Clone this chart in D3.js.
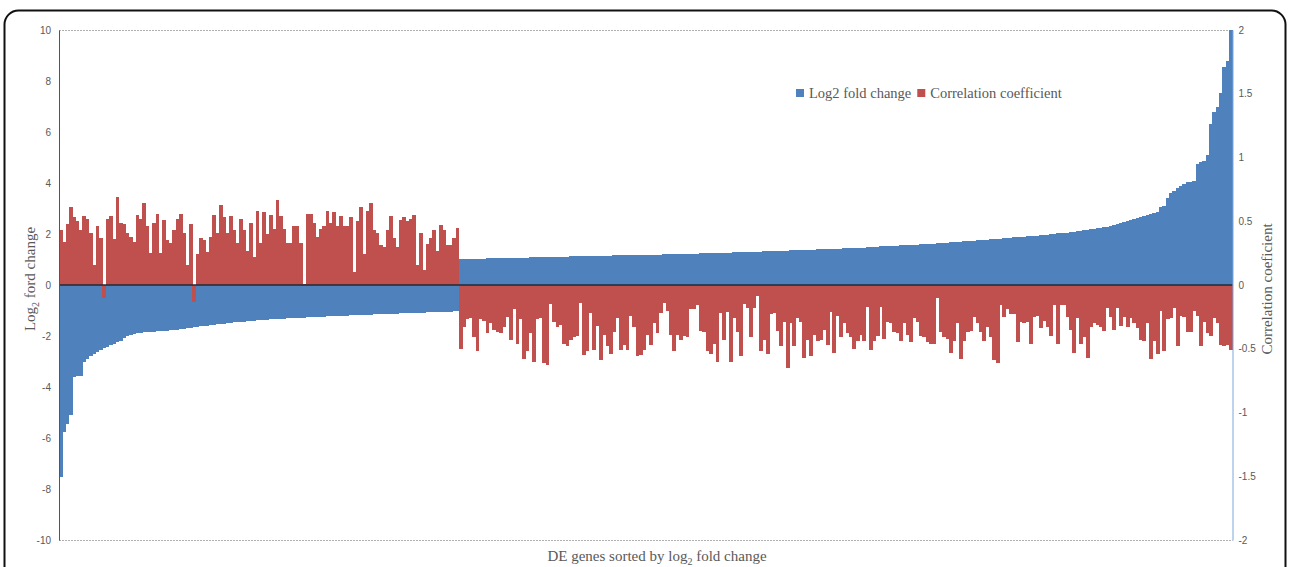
<!DOCTYPE html>
<html>
<head>
<meta charset="utf-8">
<script src="https://cdn.jsdelivr.net/npm/d3@7"></script>
<style>
  html, body { margin: 0; padding: 0; background: #fff; }
  svg { display: block; }
</style>
</head>
<body>
<svg id="chart" width="1290" height="567"></svg>
<script>
// log2 fold change of each DE gene, sorted ascending (left axis)
const log2FoldChange = [
  -7.52,-5.78,-5.46,-5.10,-3.60,-3.57,-3.55,-3.00,-2.90,-2.78,
  -2.72,-2.63,-2.55,-2.47,-2.42,-2.36,-2.30,-2.25,-2.18,-2.08,
  -2.00,-1.95,-1.92,-1.90,-1.88,-1.86,-1.85,-1.84,-1.83,-1.82,
  -1.81,-1.80,-1.79,-1.78,-1.77,-1.76,-1.74,-1.72,-1.70,-1.68,
  -1.66,-1.64,-1.62,-1.60,-1.59,-1.57,-1.55,-1.54,-1.52,-1.51,
  -1.50,-1.48,-1.47,-1.46,-1.45,-1.44,-1.42,-1.41,-1.40,-1.39,
  -1.38,-1.37,-1.36,-1.35,-1.34,-1.34,-1.33,-1.32,-1.31,-1.31,
  -1.30,-1.29,-1.29,-1.28,-1.27,-1.27,-1.26,-1.25,-1.25,-1.24,
  -1.23,-1.23,-1.22,-1.21,-1.21,-1.20,-1.20,-1.19,-1.18,-1.18,
  -1.17,-1.17,-1.16,-1.16,-1.15,-1.15,-1.14,-1.14,-1.13,-1.13,
  -1.12,-1.12,-1.11,-1.11,-1.10,-1.10,-1.09,-1.09,-1.08,-1.08,
  -1.07,-1.07,-1.06,-1.06,-1.05,-1.05,-1.04,-1.04,-1.03,-1.02,
  1.01,1.01,1.02,1.02,1.02,1.03,1.03,1.03,1.04,1.04,
  1.04,1.05,1.05,1.05,1.05,1.06,1.06,1.06,1.07,1.07,
  1.07,1.08,1.08,1.08,1.09,1.09,1.09,1.10,1.10,1.10,
  1.11,1.11,1.11,1.12,1.12,1.12,1.13,1.13,1.13,1.14,
  1.14,1.14,1.15,1.15,1.15,1.15,1.16,1.16,1.16,1.16,
  1.17,1.17,1.17,1.17,1.18,1.18,1.18,1.18,1.19,1.19,
  1.19,1.20,1.20,1.20,1.21,1.21,1.21,1.22,1.22,1.22,
  1.23,1.23,1.24,1.24,1.24,1.25,1.25,1.26,1.26,1.26,
  1.27,1.27,1.28,1.28,1.29,1.29,1.30,1.30,1.30,1.31,
  1.31,1.32,1.32,1.33,1.33,1.34,1.34,1.35,1.35,1.36,
  1.36,1.37,1.37,1.38,1.38,1.39,1.39,1.40,1.40,1.41,
  1.41,1.42,1.42,1.43,1.43,1.44,1.44,1.45,1.45,1.46,
  1.47,1.47,1.48,1.49,1.49,1.50,1.51,1.51,1.52,1.53,
  1.53,1.54,1.55,1.55,1.56,1.57,1.57,1.58,1.59,1.60,
  1.60,1.61,1.62,1.63,
  1.64,1.65,1.66,1.67,1.68,1.69,1.70,1.71,1.72,1.73,
  1.74,1.75,1.76,1.77,1.78,1.79,1.80,1.81,1.82,1.83,
  1.84,1.86,1.87,1.88,1.89,1.90,1.91,1.92,1.93,1.94,
  1.95,1.96,1.97,1.99,2.00,2.02,
  2.03,2.04,2.05,2.07,2.08,2.10,2.12,2.14,2.16,2.18,
  2.20,2.22,2.24,2.26,2.29,2.32,2.35,2.38,2.42,2.46,
  2.50,2.54,2.58,2.62,2.66,2.70,2.75,2.80,
  2.82,2.85,3.07,3.10,3.42,3.62,3.70,3.80,3.88,3.96,
  4.03,4.05,4.07,4.75,4.83,4.87,5.10,6.30,6.80,7.00,
  7.52,8.56,8.78,10.0
];

// correlation coefficient of each gene, same order (right axis)
const correlation = [
  0.43,0.34,0.48,0.61,0.53,0.50,0.43,0.54,0.52,0.41,
  0.16,0.46,0.37,-0.10,0.52,0.54,0.36,0.69,0.49,0.48,
  0.41,0.38,0.34,0.55,0.52,0.64,0.46,0.25,0.49,0.56,
  0.25,0.51,0.35,0.33,0.43,0.52,0.56,0.41,0.16,0.48,
  -0.13,0.24,0.37,0.35,0.26,0.38,0.55,0.41,0.63,0.53,
  0.41,0.54,0.43,0.33,0.52,0.43,0.27,0.49,0.22,0.58,
  0.33,0.57,0.40,0.55,0.44,0.67,0.54,0.44,0.33,0.33,
  0.46,0.46,0.33,0.01,0.56,0.56,0.49,0.38,0.44,0.46,
  0.58,0.49,0.57,0.46,0.54,0.46,0.46,0.53,0.10,0.50,
  0.61,0.24,0.58,0.64,0.43,0.41,0.31,0.30,0.43,0.54,
  0.37,0.30,0.51,0.53,0.50,0.52,0.55,0.16,0.41,0.12,
  0.32,0.37,0.43,0.27,0.47,0.43,0.31,0.31,0.37,0.45,
  -0.50,-0.33,-0.27,-0.26,-0.41,-0.52,-0.27,-0.28,-0.38,-0.30,
  -0.35,-0.37,-0.38,-0.33,-0.25,-0.43,-0.19,-0.46,-0.27,-0.58,
  -0.52,-0.38,-0.60,-0.27,-0.26,-0.61,-0.63,-0.15,-0.29,-0.33,
  -0.31,-0.46,-0.48,-0.43,-0.41,-0.40,-0.14,-0.55,-0.52,-0.22,
  -0.51,-0.32,-0.59,-0.39,-0.48,-0.54,-0.37,-0.26,-0.51,-0.47,
  -0.51,-0.24,-0.33,-0.56,-0.55,-0.51,-0.39,-0.47,-0.30,-0.38,
  -0.22,-0.14,-0.20,-0.39,-0.52,-0.39,-0.43,-0.40,-0.41,-0.19,
  -0.19,-0.16,-0.36,-0.37,-0.52,-0.54,-0.46,-0.60,-0.22,-0.43,
  -0.21,-0.60,-0.26,-0.37,-0.56,-0.15,-0.18,-0.41,-0.18,-0.09,
  -0.52,-0.43,-0.54,-0.23,-0.22,-0.36,-0.48,-0.29,-0.65,-0.30,
  -0.48,-0.26,-0.29,-0.57,-0.43,-0.56,-0.39,-0.44,-0.43,-0.35,
  -0.47,-0.21,-0.53,-0.24,-0.41,-0.30,-0.38,-0.41,-0.50,-0.44,
  -0.39,-0.44,-0.17,-0.51,-0.44,-0.40,-0.17,-0.42,-0.29,-0.30,
  -0.37,-0.38,-0.44,-0.30,-0.39,-0.45,-0.26,-0.29,-0.40,-0.41,
  -0.45,-0.46,-0.46,-0.10,-0.37,-0.41,-0.42,-0.53,
  -0.44,-0.30,-0.58,-0.44,-0.37,-0.36,-0.25,-0.30,-0.37,-0.44,
  -0.33,-0.41,-0.59,-0.61,-0.16,-0.25,-0.19,-0.23,-0.23,-0.45,
  -0.29,-0.30,-0.29,-0.46,-0.25,-0.24,-0.34,-0.28,-0.33,-0.40,
  -0.16,-0.46,-0.16,-0.16,-0.25,-0.35,-0.53,-0.26,-0.46,-0.41,
  -0.57,-0.33,-0.30,-0.31,-0.33,-0.36,-0.18,-0.25,-0.35,-0.18,
  -0.32,-0.25,-0.33,-0.26,-0.30,-0.34,-0.43,-0.44,-0.30,-0.58,
  -0.44,-0.54,-0.20,-0.52,-0.27,-0.26,-0.18,-0.48,-0.24,-0.25,
  -0.37,-0.37,-0.20,-0.24,-0.48,-0.29,-0.38,-0.40,-0.26,-0.30,
  -0.47,-0.48,-0.47,-0.51
];

const leftTicks = [10, 8, 6, 4, 2, 0, -2, -4, -6, -8, -10];
const rightTicks = [2, 1.5, 1, 0.5, 0, -0.5, -1, -1.5, -2];
const seriesNames = ["Log2 fold change", "Correlation coefficient"];
const seriesColors = ["#4f81bd", "#c0504d"];

const genes = d3.range(log2FoldChange.length);

const svg = d3.select("#chart");
const plot = { left: 59, right: 1232.5, top: 30, bottom: 540 };

const serif = "'Liberation Serif', 'Times New Roman', serif";
const sans = "'Liberation Sans', Arial, sans-serif";
const textGray = "#595959";

// outer frame with rounded corners
svg.append("rect")
  .attr("x", 4.5).attr("y", 10.5)
  .attr("width", 1281).attr("height", 620)
  .attr("rx", 14).attr("ry", 14)
  .attr("fill", "none").attr("stroke", "#111").attr("stroke-width", 2);

const x = d3.scaleBand().domain(genes).range([plot.left, plot.right]).padding(0);
const yL = d3.scaleLinear().domain([-10, 10]).range([plot.bottom, plot.top]);
const yR = d3.scaleLinear().domain([-2, 2]).range([plot.bottom, plot.top]);

// dotted top and bottom edges of the plot area
[plot.top, plot.bottom].forEach(yy => {
  svg.append("line")
    .attr("x1", plot.left).attr("x2", plot.right)
    .attr("y1", yy + 0.5).attr("y2", yy + 0.5)
    .attr("stroke", "#b0b0b0").attr("stroke-width", 1)
    .attr("stroke-dasharray", "2,1");
});

// log2 fold change bars
svg.append("g").attr("shape-rendering", "crispEdges")
  .selectAll("rect").data(genes).join("rect")
  .attr("x", i => x(i))
  .attr("width", x.bandwidth() + 0.4)
  .attr("y", i => Math.min(yL(log2FoldChange[i]), yL(0)))
  .attr("height", i => Math.abs(yL(log2FoldChange[i]) - yL(0)))
  .attr("fill", seriesColors[0]);

// correlation coefficient bars
svg.append("g").attr("shape-rendering", "crispEdges")
  .selectAll("rect").data(genes).join("rect")
  .attr("x", i => x(i))
  .attr("width", x.bandwidth() + 0.4)
  .attr("y", i => Math.min(yR(correlation[i]), yR(0)))
  .attr("height", i => Math.abs(yR(correlation[i]) - yR(0)))
  .attr("fill", seriesColors[1]);

// zero line
svg.append("line")
  .attr("x1", plot.left).attr("x2", plot.right)
  .attr("y1", yL(0)).attr("y2", yL(0))
  .attr("stroke", "#1f2a36").attr("stroke-width", 1.5);

// left axis
const leftAxis = svg.append("g")
  .attr("transform", `translate(${plot.left},0)`)
  .call(d3.axisLeft(yL).tickValues(leftTicks).tickSize(0).tickPadding(8).tickFormat(d => String(d)));
leftAxis.select(".domain").attr("stroke", "#555").attr("stroke-width", 1);
leftAxis.selectAll("text")
  .attr("font-family", sans).attr("font-size", 10).attr("fill", textGray);

// right axis
const rightAxis = svg.append("g")
  .attr("transform", `translate(${plot.right},0)`)
  .call(d3.axisRight(yR).tickValues(rightTicks).tickSize(0).tickPadding(6).tickFormat(d => String(d)));
rightAxis.select(".domain").attr("stroke", "#7aa6dc").attr("stroke-width", 1);
rightAxis.selectAll("text")
  .attr("font-family", sans).attr("font-size", 10).attr("fill", textGray);

// axis titles
const leftTitle = svg.append("text")
  .attr("transform", `translate(35,279) rotate(-90)`)
  .attr("text-anchor", "middle")
  .attr("font-family", serif).attr("font-size", 15).attr("fill", textGray);
leftTitle.append("tspan").text("Log");
leftTitle.append("tspan").attr("font-size", 10).attr("dy", 4).text("2");
leftTitle.append("tspan").attr("dy", -4).text(" ford change");

svg.append("text")
  .attr("transform", `translate(1272,289) rotate(-90)`)
  .attr("text-anchor", "middle")
  .attr("font-family", serif).attr("font-size", 15).attr("fill", textGray)
  .text("Correlation coeficient");

const xTitle = svg.append("text")
  .attr("x", 657).attr("y", 561)
  .attr("text-anchor", "middle")
  .attr("font-family", serif).attr("font-size", 15).attr("fill", textGray);
xTitle.append("tspan").text("DE genes sorted by log");
xTitle.append("tspan").attr("font-size", 10).attr("dy", 4).text("2");
xTitle.append("tspan").attr("dy", -4).text(" fold change");

// legend
const legend = svg.append("g").attr("transform", "translate(796,89)");
let lx = 0;
seriesNames.forEach((name, k) => {
  legend.append("rect").attr("x", lx).attr("y", 0).attr("width", 8).attr("height", 8)
    .attr("fill", seriesColors[k]);
  const t = legend.append("text").attr("x", lx + 13).attr("y", 8.5)
    .attr("font-family", serif).attr("font-size", 14.5).attr("fill", textGray)
    .text(name);
  lx += 13 + t.node().getComputedTextLength() + 6;
});
</script>
</body>
</html>
